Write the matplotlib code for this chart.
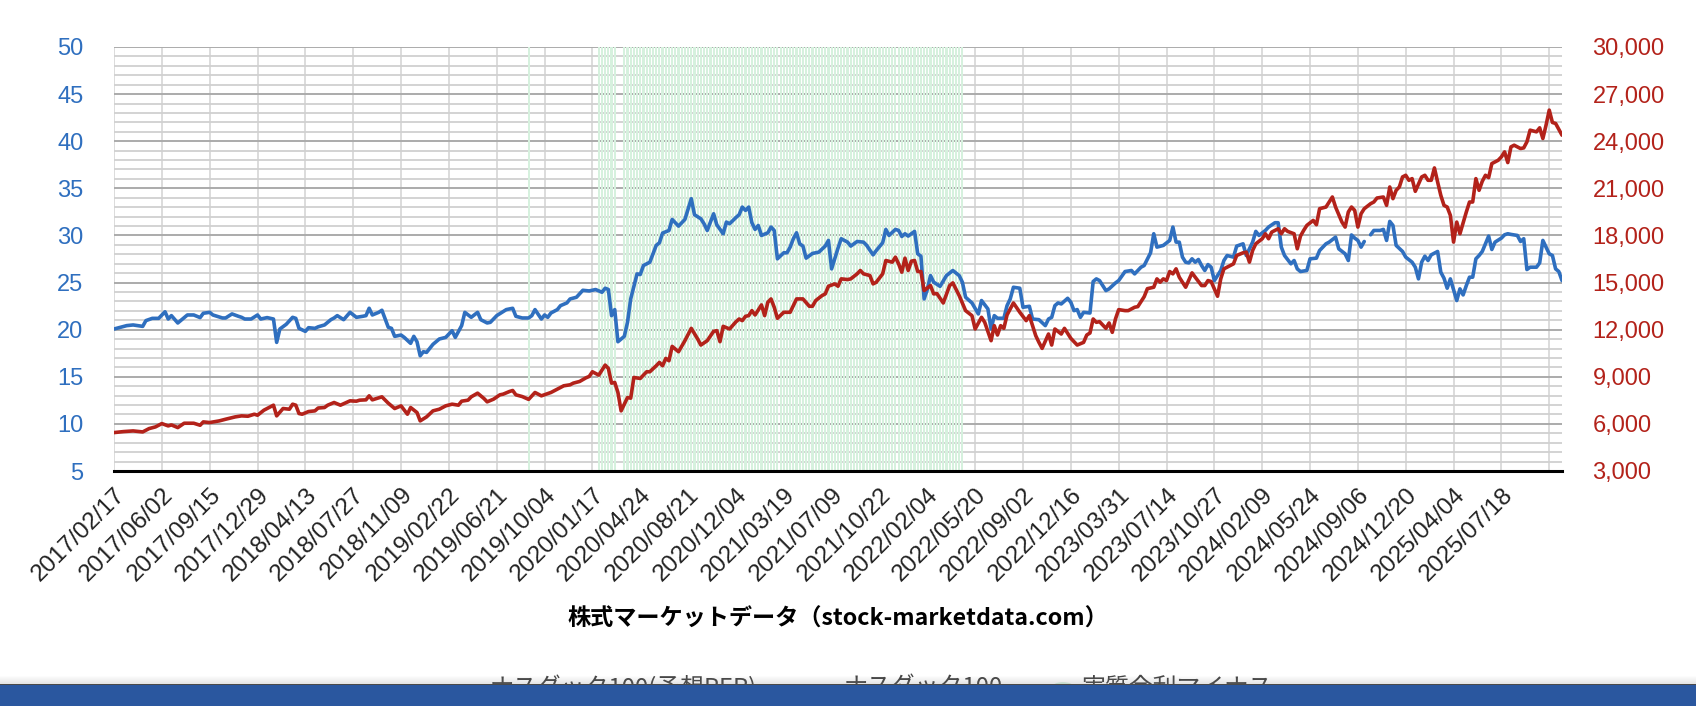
import matplotlib
matplotlib.use("Agg")
import matplotlib.pyplot as plt
import numpy as np
from matplotlib.patches import Rectangle, Circle
from matplotlib.lines import Line2D
from matplotlib.ticker import FuncFormatter, MultipleLocator

plt.rcParams['font.family'] = ['Liberation Sans', 'Noto Sans CJK JP', 'DejaVu Sans']

# ---------------- data (weekly index from 2017/02/17) ----------------
tick_labels = [
    "2017/02/17", "2017/06/02", "2017/09/15", "2017/12/29", "2018/04/13", "2018/07/27",
    "2018/11/09", "2019/02/22", "2019/06/21", "2019/10/04", "2020/01/17", "2020/04/24",
    "2020/08/21", "2020/12/04", "2021/03/19", "2021/07/09", "2021/10/22", "2022/02/04",
    "2022/05/20", "2022/09/02", "2022/12/16", "2023/03/31", "2023/07/14", "2023/10/27",
    "2024/02/09", "2024/05/24", "2024/09/06", "2024/12/20", "2025/04/04", "2025/07/18",
]

per_week = [
    0, 2, 4, 6, 9, 10, 12, 14, 16, 17, 18, 20, 23, 25, 27, 28, 30, 31, 34, 35, 37, 39, 40, 41, 43,
    45, 46, 48, 50, 51, 52, 54, 56, 57, 58, 60, 61, 63, 64, 66, 68, 69, 70, 72, 74, 76, 78, 79, 80,
    81, 83, 84, 86, 87, 88, 90, 91, 93, 94, 95, 96, 97, 98, 100, 102, 104, 105, 106, 107, 109, 110,
    112, 114, 115, 117, 118, 120, 123, 125, 126, 128, 130, 131, 132, 134, 135, 136, 137, 139, 140,
    142, 143, 145, 147, 149, 151, 153, 154, 155, 156, 157, 158, 160, 161, 162, 164, 165, 166, 168,
    169, 170, 171, 172, 174, 175, 177, 179, 181, 182, 184, 185, 186, 188, 189, 191, 192, 193, 195,
    196, 197, 198, 199, 200, 201, 202, 203, 205, 206, 207, 208, 210, 211, 212, 213, 214, 215, 216,
    217, 219, 221, 223, 224, 225, 227, 228, 230, 231, 233, 235, 236, 238, 239, 241, 242, 243, 245,
    246, 247, 248, 249, 251, 252, 253, 254, 255, 256, 257, 259, 261, 263, 265, 266, 267, 269, 271,
    272, 274, 275, 276, 277, 279, 280, 281, 282, 284, 285, 287, 288, 290, 292, 293, 294, 295, 296,
    297, 299, 300, 301, 302, 303, 304, 306, 307, 308, 309, 311, 312, 314, 315, 317, 319, 320, 322,
    323, 325, 326, 327, 329, 331, 332, 333, 334, 335, 336, 337, 338, 339, 340, 341, 342, 343, 344,
    345, 347, 348, 349, 351, 352, 354, 355, 357, 358, 359, 361, 362, 364, 365, 366, 367, 369, 370,
    371, 372, 374, 375, 377, 378, 380, 381, 383, 384, 386, 387, 388, 389, 390, 391, 392, 393, 394,
    395, 397, 398, 399, 400, 401, 402, 404, 405, 407, 408, 409, 410, 411, 412, 413, 415, 416, 417,
    418, 419, 421, 422, 423, 424, 425, 426, 427, 428, 429, 431, 432, 433, 435, 436, 437, 438, 440,
    441, 442, 443, 444, 446, 447, 448, 449, 450, 451, 452, 453, 454,
]
per_value = [
    20.07, 20.25, 20.43, 20.5, 20.35, 20.96, 21.2, 21.2, 21.9, 21.13, 21.49, 20.71, 21.56, 21.56,
    21.28, 21.74, 21.84, 21.56, 21.24, 21.24, 21.67, 21.42, 21.31, 21.13, 21.13, 21.56, 21.13,
    21.28, 21.13, 18.65, 20.07, 20.57, 21.31, 21.2, 20.14, 19.82, 20.21, 20.14, 20.3, 20.5, 21.06,
    21.24, 21.49, 21.06, 21.84, 21.31, 21.42, 21.49, 22.27, 21.56, 21.84, 22.06, 20.25, 20.14,
    19.29, 19.43, 19.18, 18.55, 19.29, 18.72, 17.23, 17.66, 17.59, 18.44, 19.01, 19.18, 19.54,
    19.89, 19.18, 20.43, 21.84, 21.31, 21.84, 21.06, 20.71, 20.78, 21.49, 22.13, 22.27, 21.42,
    21.24, 21.24, 21.49, 22.13, 21.13, 21.56, 21.31, 21.77, 22.13, 22.55, 22.84, 23.26, 23.44,
    24.18, 24.11, 24.26, 23.97, 24.4, 24.26, 21.49, 22.13, 18.72, 19.29, 20.78, 23.26, 25.92,
    25.85, 26.81, 27.16, 28.05, 28.94, 29.22, 30.25, 30.53, 31.7, 30.99, 31.7, 33.9, 32.2, 31.77,
    31.24, 30.53, 32.3, 31.13, 30.18, 31.42, 31.24, 31.9, 32.2, 33.01, 32.66, 33.01, 31.35, 30.64,
    31.06, 30.0, 30.28, 30.89, 30.53, 27.52, 28.16, 28.16, 28.76, 29.65, 30.28, 29.11, 28.87,
    27.59, 28.09, 28.23, 28.87, 29.47, 26.45, 28.65, 29.65, 29.29, 28.87, 29.36, 29.29, 28.94,
    27.94, 28.4, 29.22, 30.64, 30.0, 30.64, 30.53, 29.89, 30.18, 29.93, 30.43, 28.05, 27.8, 23.26,
    24.26, 25.74, 25.04, 24.6, 25.74, 26.28, 25.74, 25.04, 23.44, 22.84, 21.67, 23.09, 22.2,
    20.07, 21.49, 21.21, 21.21, 22.55, 23.26, 24.5, 24.4, 22.38, 22.48, 21.13, 21.06, 20.43,
    21.13, 21.31, 22.55, 22.84, 22.73, 23.33, 22.91, 22.02, 22.13, 21.31, 21.84, 21.77, 25.11,
    25.39, 25.21, 24.15, 24.33, 24.96, 25.21, 26.17, 26.28, 25.92, 26.63, 26.81, 28.16, 30.18,
    28.76, 28.94, 29.47, 30.89, 29.29, 29.29, 27.7, 27.16, 27.09, 27.52, 27.16, 27.45, 26.81,
    26.28, 26.91, 26.63, 25.21, 26.28, 27.34, 27.87, 27.7, 28.87, 29.11, 27.87, 29.29, 30.43,
    30.0, 30.53, 30.89, 31.35, 31.35, 28.76, 27.87, 26.99, 27.34, 26.45, 26.17, 26.28, 27.52,
    27.59, 28.4, 29.11, 29.29, 29.82, 28.58, 28.05, 27.34, 30.05, 29.72, 29.47, 28.76, 29.36,
    np.nan, 30.07, 30.53, 30.53, 30.64, 29.47, 31.49, 31.06, 28.94, 28.3, 27.7, 27.16, 26.63,
    25.39, 27.16, 27.8, 27.34, 27.94, 28.3, 26.1, 25.46, 24.4, 25.39, 23.09, 24.33, 23.69, 24.68,
    25.57, 25.57, 27.52, 27.87, 28.3, 29.93, 28.51, 29.29, 29.72, 30.07, 30.18, 30.11, 30.0,
    29.36, 29.65, 26.38, 26.63, 26.63, 27.09, 29.47, 28.76, 28.05, 27.87, 26.45, 26.17, 25.21,
]

ndx_week = [
    0, 3, 6, 9, 11, 13, 15, 17, 18, 20, 22, 25, 27, 28, 30, 33, 35, 38, 40, 42, 44, 45, 47, 50,
    51, 53, 55, 56, 57, 58, 59, 61, 63, 64, 66, 67, 69, 71, 74, 76, 77, 79, 80, 81, 84, 86, 88, 90,
    92, 93, 95, 96, 98, 100, 102, 104, 106, 108, 109, 111, 112, 114, 116, 117, 119, 121, 122, 124,
    125, 126, 128, 130, 132, 134, 137, 139, 141, 143, 144, 146, 148, 149, 150, 152, 154, 155, 156,
    157, 158, 159, 161, 162, 163, 165, 167, 168, 170, 171, 172, 173, 174, 175, 177, 179, 181, 183,
    184, 186, 188, 189, 190, 191, 193, 195, 196, 197, 198, 199, 200, 201, 203, 204, 205, 206, 207,
    208, 210, 212, 213, 214, 216, 218, 219, 220, 222, 223, 224, 226, 227, 228, 230, 231, 233, 234,
    235, 237, 238, 239, 241, 242, 244, 245, 246, 247, 248, 249, 250, 251, 252, 253, 254, 256, 257,
    258, 260, 262, 263, 265, 267, 269, 270, 272, 273, 275, 276, 277, 278, 279, 280, 282, 284, 286,
    287, 289, 290, 291, 293, 294, 295, 297, 298, 300, 302, 304, 305, 306, 307, 308, 309, 311, 312,
    313, 314, 315, 317, 318, 320, 321, 323, 324, 326, 327, 328, 329, 330, 331, 332, 333, 334, 336,
    338, 339, 341, 342, 343, 344, 346, 347, 348, 350, 351, 352, 354, 355, 356, 357, 358, 360, 361,
    362, 363, 365, 366, 367, 368, 370, 371, 372, 373, 374, 376, 377, 378, 380, 382, 383, 385, 386,
    387, 388, 389, 390, 391, 392, 394, 395, 396, 398, 399, 400, 401, 402, 403, 404, 405, 406, 407,
    408, 410, 411, 412, 413, 414, 415, 416, 417, 418, 419, 420, 421, 422, 424, 425, 426, 427, 428,
    429, 430, 431, 432, 434, 435, 436, 437, 438, 439, 441, 442, 443, 444, 446, 447, 448, 449, 450,
    451, 452, 454,
]
ndx_value = [
    5446, 5510, 5552, 5488, 5701, 5808, 6020, 5871, 5935, 5765, 6042, 6042, 5914, 6127, 6085,
    6191, 6297, 6446, 6510, 6488, 6616, 6552, 6872, 7191, 6510, 6978, 6935, 7255, 7191, 6659,
    6616, 6786, 6829, 7010, 7042, 7191, 7361, 7191, 7467, 7446, 7510, 7531, 7787, 7531, 7723,
    7318, 6978, 7148, 6616, 7042, 6723, 6191, 6446, 6829, 6935, 7148, 7255, 7191, 7446, 7510,
    7723, 7957, 7616, 7404, 7574, 7851, 7893, 8063, 8127, 7851, 7740, 7560, 8000, 7787, 8000,
    8212, 8425, 8489, 8595, 8702, 8936, 9021, 9319, 9106, 9744, 9532, 8595, 8638, 8000, 6829,
    7680, 7638, 8957, 8893, 9319, 9319, 9702, 9915, 9702, 10170, 10021, 10936, 10596, 11298,
    12085, 11404, 11021, 11298, 11894, 11936, 11234, 12213, 12043, 12500, 12681, 12575, 12851,
    12894, 13213, 12936, 13575, 12894, 13745, 13958, 13426, 12724, 13107, 13107, 13532, 13958,
    13958, 13490, 13490, 13851, 14171, 14277, 14766, 14915, 14766, 15235, 15192, 15235, 15554,
    15767, 15554, 15447, 14915, 15022, 15554, 16405, 16299, 16618, 16192, 15660, 16554, 15767,
    16362, 16405, 15703, 15703, 14490, 14809, 14277, 14300, 13700, 14809, 14979, 14171, 13213,
    12894, 12043, 12787, 12468, 11298, 12255, 11660, 12255, 12085, 12936, 13702, 13107, 12575,
    12894, 11617, 11191, 10808, 11723, 11021, 12043, 11723, 12085, 11447, 11021, 11191, 11660,
    11787, 12681, 12468, 12511, 12085, 12426, 11830, 12681, 13277, 13213, 13213, 13426, 13468,
    14100, 14610, 14702, 15235, 15022, 15235, 15128, 15703, 15554, 15873, 15341, 14702, 15618,
    15341, 14809, 14809, 15128, 15064, 14128, 15235, 15873, 16086, 16192, 16724, 16894, 16937,
    16299, 17043, 17469, 17788, 18107, 17788, 18214, 18426, 18107, 18426, 18256, 18107, 17150,
    17958, 18320, 18639, 18958, 18682, 19703, 19810, 20448, 19810, 18852, 18533, 19491, 19810,
    19597, 18533, 19384, 19703, 20023, 20129, 20384, 20448, 19916, 21087, 20342, 20874, 21087,
    21725, 21831, 21512, 21619, 20810, 21725, 21831, 21512, 21512, 22300, 21406, 20555, 19916,
    19810, 19278, 17575, 18852, 18107, 19491, 20129, 20129, 21619, 20874, 21448, 21831, 21682,
    22576, 22789, 23002, 23321, 22640, 23640, 23747, 23534, 23576, 23959, 24704, 24598, 24853,
    24172, 25024, 25981, 25194, 25130, 24385,
]

# weeks (first, last) where the real interest rate was negative
neg_rate_periods = [(130, 130), (152, 157), (160, 266)]

n_weeks = 455
left_ticks = [5, 10, 15, 20, 25, 30, 35, 40, 45, 50]
right_ticks = [3000, 6000, 9000, 12000, 15000, 18000, 21000, 24000, 27000, 30000]

legend_labels = ["ナスダック100(予想PER)", "ナスダック100", "実質金利マイナス"]
title_text = "株式マーケットデータ（stock-marketdata.com）"

# ---------------- styling ----------------
BLUE = "#2f6fbf"
RED = "#b3221a"
GREEN = "#d6f1de"
CJK = ["Noto Sans CJK JP", "DejaVu Sans"]

W, H = 1696, 706
DPI = 100
fig = plt.figure(figsize=(W / DPI, H / DPI), dpi=DPI)
fig.patch.set_facecolor("white")


def fx(px):
    return px / W


def fy(py):
    return 1 - py / H


L, R, T, B = 114, 1562, 47, 471
ax = fig.add_axes([fx(L), fy(B), fx(R - L), (B - T) / H])
ax.set_xlim(0, n_weeks - 1)
ax.set_ylim(left_ticks[0], left_ticks[-1])
ax.set_yticks(left_ticks)
ax.yaxis.set_minor_locator(MultipleLocator(1))
ax.set_axisbelow(True)
ax.grid(which="major", axis="y", color="#ababab", lw=1.4)
ax.grid(which="minor", axis="y", color="#d0d0d0", lw=1.3)

tick_pos = list(range(0, n_weeks, 15))
ax.set_xticks(tick_pos)
labels_full = tick_labels + [""] * (len(tick_pos) - len(tick_labels))
ax.set_xticklabels(labels_full, rotation=45, ha="right", va="top",
                   rotation_mode="anchor", fontsize=17.5, color="#222222")
ax.grid(which="major", axis="x", color="#dcdcdc", lw=1.4)

# negative real-rate bars
for a, b in neg_rate_periods:
    wk = list(range(a, b + 1))
    ax.bar(wk, [left_ticks[-1] - left_ticks[0]] * len(wk), bottom=left_ticks[0],
           width=0.68, color=GREEN, linewidth=0, zorder=1)

ax.plot(per_week, per_value, color=BLUE, lw=2.6, zorder=3,
        solid_joinstyle="round", solid_capstyle="round")

ax.tick_params(axis="y", which="both", length=0, pad=22, labelsize=17, labelcolor=BLUE)
ax.tick_params(axis="x", which="both", length=0, pad=9)
for s in ["top", "left", "right"]:
    ax.spines[s].set_visible(False)
ax.spines["bottom"].set_color("black")
ax.spines["bottom"].set_linewidth(2.2)
ax.spines["bottom"].set_zorder(5)

ax2 = ax.twinx()
ax2.set_ylim(right_ticks[0], right_ticks[-1])
ax2.set_yticks(right_ticks)
ax2.yaxis.set_major_formatter(FuncFormatter(lambda v, p: f"{int(v):,}"))
ax2.plot(ndx_week, ndx_value, color=RED, lw=2.6, zorder=3,
         solid_joinstyle="round", solid_capstyle="round")
ax2.tick_params(axis="y", length=0, pad=22, labelsize=17, labelcolor=RED)
for s in ["top", "left", "right", "bottom"]:
    ax2.spines[s].set_visible(False)

# axis title
fig.text(fx((L + R) / 2), fy(619), title_text, ha="center", va="center",
         fontsize=16.7, fontweight="bold", color="black", family=CJK)

# legend (partly hidden by the bottom bar)
ly = fy(688)
fig.add_artist(Line2D([fx(447), fx(481)], [ly, ly], color=BLUE, lw=2.6,
                      transform=fig.transFigure))
fig.text(fx(490), ly, legend_labels[0], ha="left", va="center", fontsize=17.2,
         color="#444444", family=CJK)
fig.add_artist(Line2D([fx(800), fx(834)], [ly, ly], color=RED, lw=2.6,
                      transform=fig.transFigure))
fig.text(fx(844), ly, legend_labels[1], ha="left", va="center", fontsize=17.2,
         color="#444444", family=CJK)
fig.add_artist(Circle((fx(1063), fy(687)), 10 / W, color=GREEN, transform=fig.transFigure))
fig.text(fx(1082), ly, legend_labels[2], ha="left", va="center", fontsize=17.2,
         color="#444444", family=CJK)

# bottom bar with shadow
for i in range(8):
    fig.add_artist(Rectangle((0, fy(677 + i)), 1, 1 / H, transform=fig.transFigure,
                             color="#808080", alpha=0.025 * (i + 1), lw=0, zorder=10))
fig.add_artist(Rectangle((0, fy(685)), 1, 1 / H, transform=fig.transFigure,
                         color="#4a4a4a", lw=0, zorder=11))
fig.add_artist(Rectangle((0, 0), 1, fy(685), transform=fig.transFigure,
                         color="#2a579f", lw=0, zorder=11))

fig.savefig("out.png", dpi=DPI)
